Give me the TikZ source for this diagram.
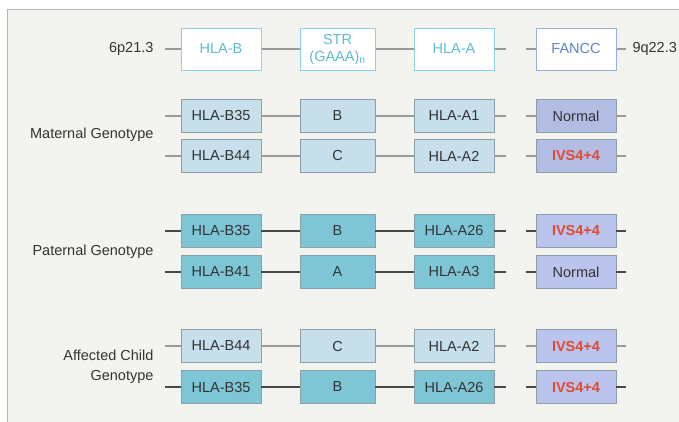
\documentclass[tikz,border=0pt]{standalone}
\usepackage{fontspec}
\setmainfont{Liberation Sans}
\definecolor{bgpanel}{HTML}{F3F3EF}
\definecolor{panelborder}{HTML}{B4B4B4}
\definecolor{hdrcyan}{HTML}{88D2E3}
\definecolor{hdrcyantext}{HTML}{5CBCD4}
\definecolor{hdrblue}{HTML}{93B0E4}
\definecolor{hdrbluetext}{HTML}{5B87CF}
\definecolor{lightfill}{HTML}{C6DFEA}
\definecolor{darkfill}{HTML}{7EC5D6}
\definecolor{lavm}{HTML}{B3BCE3}
\definecolor{lavp}{HTML}{BBC4EC}
\definecolor{boxborder}{HTML}{8E9EA6}
\definecolor{mutred}{HTML}{E04B35}
\definecolor{lightline}{HTML}{9A9A9A}
\definecolor{darkline}{HTML}{474747}
\definecolor{txt}{HTML}{333333}
\begin{document}
\begin{tikzpicture}[x=1pt,y=-1pt,
  font=\fontsize{14.5}{16}\selectfont, text=txt,
  genebox/.style={draw=boxborder, line width=0.9pt, minimum height=33pt, inner sep=0pt, anchor=center},
  wB/.style={minimum width=80pt}, wS/.style={minimum width=75pt},
  hdr/.style={draw=hdrcyan, fill=white, text=hdrcyantext, line width=1pt, minimum height=42pt, inner sep=0pt},
  hdrF/.style={draw=hdrblue, fill=white, text=hdrbluetext, line width=1pt, minimum height=42pt, minimum width=80pt, inner sep=0pt},
  lt/.style={genebox, fill=lightfill},
  dk/.style={genebox, fill=darkfill},
  lvm/.style={genebox, fill=lavm, minimum width=80pt},
  lvp/.style={genebox, fill=lavp, minimum width=80pt},
  lline/.style={draw=lightline, line width=1.4pt},
  dline/.style={draw=darkline, line width=1.4pt},
  hline/.style={draw=lightline, line width=1.4pt},
  rowlabel/.style={anchor=east, align=right, text=txt}
]
\useasboundingbox (0,0) rectangle (679,421);
\fill[white] (0,0) rectangle (679,421);
\fill[bgpanel] (7,9) rectangle (680,422);
\draw[panelborder, line width=1pt] (7,422) -- (7,9) -- (680,9);

% header
\node[hdr, minimum width=80pt] (hB) at (221,49) {HLA-B};
\node[hdr, minimum width=75pt, align=center, font=\fontsize{14.5}{17}\selectfont] (hS) at (337.5,49) {STR\\(GAAA)$_{\mathrm{n}}$};
\node[hdr, minimum width=80pt] (hA) at (454,49) {HLA-A};
\node[hdrF] (hF) at (576,49) {FANCC};
\node[anchor=east] (p6) at (157,49) {6p21.3};
\node[anchor=west] (q9) at (629,49) {9q22.3};
\coordinate (hL) at (165,49);
\coordinate (hA1) at (506,49);
\coordinate (hF0) at (526,49);
\coordinate (hR) at (626,49);
\draw[hline] (hL) -- (hB) (hB) -- (hS) (hS) -- (hA) (hA) -- (hA1) (hF0) -- (hF) (hF) -- (hR);

\newcommand{\generow}[9]{%
  \node[#3, wB] (#1B) at (221,#2) {#5};
  \node[#3, wS] (#1S) at (337.5,#2) {#6};
  \node[#3, wB] (#1A) at (454,#2) {#7};
  \node[#4] (#1F) at (576,#2) {#8};
  \coordinate (#1L) at (165,#2);
  \coordinate (#1A1) at (506,#2);
  \coordinate (#1F0) at (526,#2);
  \coordinate (#1R) at (626,#2);
  \draw[#9] (#1L) -- (#1B) (#1B) -- (#1S) (#1S) -- (#1A) (#1A) -- (#1A1) (#1F0) -- (#1F) (#1F) -- (#1R);
}
\generow{ma}{116}{lt}{lvm}{HLA-B35}{B}{HLA-A1}{Normal}{lline}
\generow{mb}{156}{lt}{lvm}{HLA-B44}{C}{HLA-A2}{\textcolor{mutred}{\bfseries IVS4+4}}{lline}
\generow{pa}{231}{dk}{lvp}{HLA-B35}{B}{HLA-A26}{\textcolor{mutred}{\bfseries IVS4+4}}{dline}
\generow{pb}{272}{dk}{lvp}{HLA-B41}{A}{HLA-A3}{Normal}{dline}
\generow{ca}{346}{lt}{lvp}{HLA-B44}{C}{HLA-A2}{\textcolor{mutred}{\bfseries IVS4+4}}{lline}
\generow{cb}{387}{dk}{lvp}{HLA-B35}{B}{HLA-A26}{\textcolor{mutred}{\bfseries IVS4+4}}{dline}

% row labels
\node[rowlabel] (lm) at (157,135) {Maternal Genotype};
\node[rowlabel] (lp) at (157,252) {Paternal Genotype};
\node[rowlabel, font=\fontsize{14.5}{20}\selectfont] (lc) at (157,367) {Affected Child\\Genotype};
\end{tikzpicture}
\end{document}
